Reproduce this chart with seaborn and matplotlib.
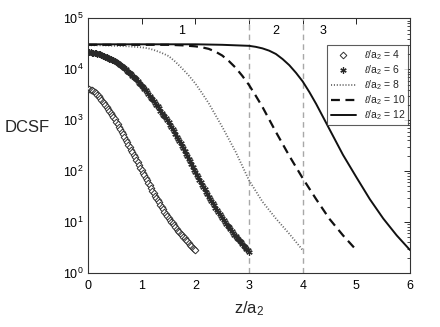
import numpy as np
import pandas as pd
import matplotlib
matplotlib.use("Agg")
import matplotlib.pyplot as plt
import seaborn as sns

# ---- data (log10 of DCSF) ----
log_dcsf_l4 = [3.61, 3.605, 3.60, 3.585, 3.57, 3.55, 3.53, 3.50, 3.47, 3.435,
               3.40, 3.365, 3.33, 3.295, 3.26, 3.22, 3.18, 3.14, 3.10, 3.06,
               3.02, 2.97, 2.92, 2.87, 2.82, 2.77, 2.72, 2.67, 2.62, 2.57,
               2.52, 2.47, 2.42, 2.37, 2.32, 2.27, 2.22, 2.17, 2.12, 2.07,
               2.02, 1.97, 1.92, 1.87, 1.82, 1.77, 1.72, 1.67, 1.62, 1.57,
               1.52, 1.475, 1.43, 1.385, 1.34, 1.295, 1.25, 1.205, 1.16, 1.12,
               1.08, 1.045, 1.01, 0.975, 0.94, 0.905, 0.87, 0.835, 0.80, 0.77,
               0.74, 0.71, 0.68, 0.65, 0.62, 0.59, 0.56, 0.53, 0.50, 0.475, 0.45]
z_l4 = [round(0.025 * i, 3) for i in range(len(log_dcsf_l4))]

log_dcsf_l6 = [4.33, 4.33, 4.33, 4.325, 4.32, 4.315, 4.31, 4.305, 4.30, 4.29,
               4.28, 4.27, 4.26, 4.25, 4.24, 4.225, 4.21, 4.20, 4.19, 4.175,
               4.16, 4.145, 4.13, 4.11, 4.09, 4.07, 4.05, 4.025, 4.00, 3.975,
               3.95, 3.925, 3.90, 3.875, 3.85, 3.825, 3.80, 3.77, 3.74, 3.71,
               3.68, 3.65, 3.62, 3.585, 3.55, 3.515, 3.48, 3.445, 3.41, 3.375,
               3.34, 3.305, 3.27, 3.23, 3.19, 3.15, 3.11, 3.075, 3.04, 3.00,
               2.96, 2.915, 2.87, 2.825, 2.78, 2.73, 2.68, 2.635, 2.59, 2.545,
               2.50, 2.45, 2.40, 2.345, 2.29, 2.24, 2.19, 2.135, 2.08, 2.03,
               1.98, 1.93, 1.88, 1.83, 1.78, 1.735, 1.69, 1.64, 1.59, 1.545,
               1.50, 1.455, 1.41, 1.37, 1.33, 1.285, 1.24, 1.20, 1.16, 1.12,
               1.08, 1.04, 1.00, 0.965, 0.93, 0.895, 0.86, 0.825, 0.79, 0.755,
               0.72, 0.69, 0.66, 0.63, 0.60, 0.57, 0.54, 0.51, 0.48, 0.45, 0.42]
z_l6 = [round(0.025 * i, 3) for i in range(len(log_dcsf_l6))]

z_l8 = [0.0, 0.25, 0.5, 0.75, 1.0, 1.125, 1.25, 1.375, 1.5, 1.625, 1.75,
        1.875, 2.0, 2.125, 2.25, 2.5, 2.75, 3.0, 3.25, 3.5, 3.75, 4.0]
log_dcsf_l8 = [4.47, 4.47, 4.46, 4.45, 4.43, 4.41, 4.37, 4.32, 4.26, 4.15,
               4.02, 3.88, 3.72, 3.53, 3.33, 2.87, 2.38, 1.82, 1.40, 1.07,
               0.77, 0.45]

z_l10 = [0.0, 0.5, 1.0, 1.5, 1.75, 2.0, 2.125, 2.25, 2.375, 2.5, 2.625,
         2.75, 2.875, 3.0, 3.125, 3.25, 3.5, 3.75, 4.0, 4.25, 4.5, 4.75, 5.0]
log_dcsf_l10 = [4.48, 4.48, 4.48, 4.48, 4.47, 4.45, 4.43, 4.40, 4.345, 4.27,
                4.16, 4.03, 3.87, 3.69, 3.48, 3.26, 2.77, 2.30, 1.86, 1.45,
                1.06, 0.74, 0.45]

z_l12 = [0.0, 0.5, 1.0, 1.5, 2.0, 2.5, 2.75, 3.0, 3.125, 3.25, 3.375, 3.5,
         3.625, 3.75, 3.875, 4.0, 4.125, 4.25, 4.375, 4.5, 4.75, 5.0, 5.25,
         5.5, 5.75, 6.0]
log_dcsf_l12 = [4.49, 4.49, 4.49, 4.49, 4.49, 4.48, 4.47, 4.46, 4.44, 4.41,
                4.365, 4.30, 4.20, 4.08, 3.93, 3.76, 3.55, 3.32, 3.07, 2.82,
                2.32, 1.88, 1.45, 1.07, 0.74, 0.45]

series_labels = ["4", "6", "8", "10", "12"]
region_labels = ["1", "2", "3"]
region_x = [1.75, 3.5, 4.37]
region_y = 5.6e4
boundaries = [3, 4]
x_ticks = [0, 1, 2, 3, 4, 5, 6]

# ---- style ----
sns.set_style("white")
plt.rcParams["font.family"] = ["Liberation Sans", "DejaVu Sans"]
plt.rcParams["mathtext.fontset"] = "custom"
plt.rcParams["mathtext.rm"] = "Liberation Sans"
plt.rcParams["mathtext.it"] = "Liberation Sans:italic"

fig = plt.figure(figsize=(4.4, 3.27), dpi=100)
ax = fig.add_axes([0.2, 0.165, 0.732, 0.779])

def frame(z, logv):
    return pd.DataFrame({"z": z, "dcsf": np.power(10.0, np.array(logv))})

def lab(s):
    return r"$\ell$/a$_2$ = " + s

for b in boundaries:
    ax.axvline(b, color="#a8a8a8", lw=1.0, ls=(0, (4, 3)), zorder=1)

sns.lineplot(data=frame(z_l4, log_dcsf_l4), x="z", y="dcsf", ax=ax,
             linestyle="none", marker="D", markersize=3.4,
             markerfacecolor="white", markeredgecolor="#333333",
             markeredgewidth=0.7, color="#333333",
             label=lab(series_labels[0]), zorder=3)
sns.lineplot(data=frame(z_l6, log_dcsf_l6), x="z", y="dcsf", ax=ax,
             linestyle="none", marker=(6, 2, 0), markersize=4.5,
             markeredgecolor="#2a2a2a", markeredgewidth=0.9, color="#2a2a2a",
             label=lab(series_labels[1]), zorder=3)
sns.lineplot(data=frame(z_l8, log_dcsf_l8), x="z", y="dcsf", ax=ax,
             color="#666666", lw=1.3, linestyle=(0, (0.6, 1.0)),
             label=lab(series_labels[2]), zorder=2)
sns.lineplot(data=frame(z_l10, log_dcsf_l10), x="z", y="dcsf", ax=ax,
             color="#111111", lw=1.6, linestyle=(0, (4.0, 2.5)),
             label=lab(series_labels[3]), zorder=2)
sns.lineplot(data=frame(z_l12, log_dcsf_l12), x="z", y="dcsf", ax=ax,
             color="#111111", lw=1.4, linestyle="-",
             label=lab(series_labels[4]), zorder=2)

ax.set_yscale("log")
ax.set_xlim(0, 6)
ax.set_ylim(1, 1e5)
ax.set_xticks(x_ticks)
ax.set_xticklabels([str(t) for t in x_ticks])

for txt, xx in zip(region_labels, region_x):
    ax.text(xx, region_y, txt, fontsize=9, ha="center", va="center", color="black")

ax.tick_params(which="both", direction="in", top=True, right=True,
               labelsize=9, colors="black")
ax.tick_params(which="major", length=4, width=0.6)
ax.tick_params(which="minor", length=2, width=0.5)
ax.tick_params(axis="x", pad=5)
for s in ax.spines.values():
    s.set_color("#333333")
    s.set_linewidth(0.8)

ax.set_xlabel(r"z/a$_2$", fontsize=12)
ax.xaxis.set_label_coords(0.5, -0.105)
ax.set_ylabel("DCSF", fontsize=12, rotation=0, ha="center", va="center")
ax.yaxis.set_label_coords(-0.19, 0.57)

leg = ax.legend(loc="upper right", bbox_to_anchor=(0.995, 0.895), fontsize=7.5,
                frameon=True, fancybox=False, handlelength=2.4,
                borderpad=0.3, labelspacing=0.12, handletextpad=0.8,
                borderaxespad=0.0)
leg.get_frame().set_edgecolor("#333333")
leg.get_frame().set_linewidth(0.8)

fig.savefig("out.png", dpi=100, facecolor="white")
